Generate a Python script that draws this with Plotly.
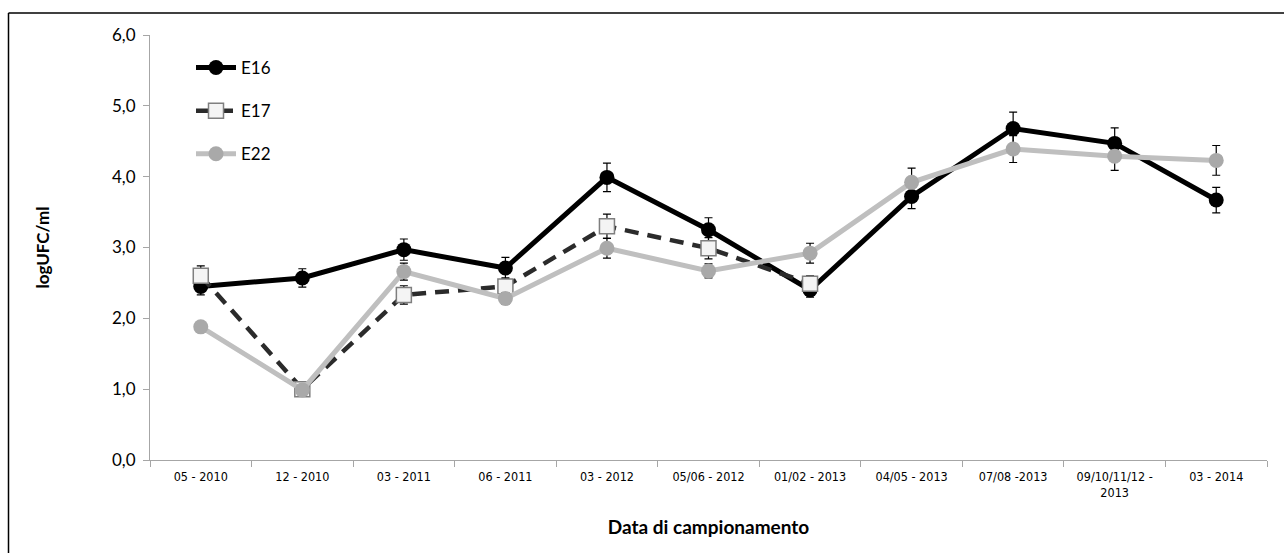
import plotly.graph_objects as go

categories = ["05 - 2010", "12 - 2010", "03 - 2011", "06 - 2011", "03 - 2012",
              "05/06 - 2012", "01/02 - 2013", "04/05 - 2013", "07/08 -2013",
              "09/10/11/12 -<br>2013", "03 - 2014"]

e16 = [2.45, 2.57, 2.97, 2.71, 3.99, 3.25, 2.40, 3.72, 4.68, 4.47, 3.67]
e16_err = [0.12, 0.13, 0.15, 0.15, 0.20, 0.17, 0.10, 0.17, 0.23, 0.22, 0.18]

e17 = [2.60, 1.00, 2.33, 2.45, 3.30, 2.99, 2.49]
e17_err = [0.14, 0.05, 0.13, 0.12, 0.17, 0.15, 0.11]

e22 = [1.88, 0.99, 2.66, 2.28, 2.99, 2.67, 2.92, 3.92, 4.39, 4.29, 4.23]
e22_err = [0.06, 0.05, 0.12, 0.08, 0.14, 0.10, 0.14, 0.20, 0.19, 0.20, 0.21]

FONT = "Lato, 'Open Sans', sans-serif"

fig = go.Figure()

fig.add_trace(go.Scatter(
    x=categories, y=e16, name="E16", mode="lines+markers",
    line=dict(color="#000000", width=5),
    marker=dict(symbol="circle", size=15, color="#000000"),
    error_y=dict(type="data", array=e16_err, color="#000000", thickness=1.2, width=4),
    legendgroup="a"))

fig.add_trace(go.Scatter(
    x=categories[:len(e17)], y=e17, name="E17", mode="lines+markers",
    line=dict(color="#2b2b2b", width=4.5, dash="14px,9px"),
    marker=dict(symbol="square", size=15, color="#f4f4f4",
                line=dict(color="#7f7f7f", width=1.5)),
    error_y=dict(type="data", array=e17_err, color="#000000", thickness=1.2, width=4),
    legendgroup="b"))

fig.add_trace(go.Scatter(
    x=categories, y=e22, name="E22", mode="lines+markers",
    line=dict(color="#bfbfbf", width=5),
    marker=dict(symbol="circle", size=15, color="#a9a9a9"),
    error_y=dict(type="data", array=e22_err, color="#000000", thickness=1.2, width=4),
    legendgroup="c"))

W, H = 1284, 553
# plot area in page pixels
PL, PR, PT, PB = 150, 1267, 35, 460
L, T, R, B = PL, PT, W - PR, H - PB
pw, ph = W - L - R, H - T - B

def px_x(p):
    return (p - L) / pw

def px_y(p):
    return (H - B - p) / ph

border = dict(color="#000000", width=1.5)

fig.update_layout(
    width=W, height=H,
    margin=dict(l=L, r=R, t=T, b=B, autoexpand=False),
    paper_bgcolor="white", plot_bgcolor="white",
    separators=", ",
    font=dict(family=FONT, color="#000000", size=15),
    showlegend=True,
    legend=dict(x=px_x(191), y=px_y(50), xanchor="left", yanchor="top",
                traceorder="grouped", tracegroupgap=18,
                font=dict(family=FONT, size=17, color="#000000"),
                bgcolor="rgba(0,0,0,0)", itemwidth=40),
    xaxis=dict(
        type="category", categoryorder="array", categoryarray=categories,
        showline=True, linecolor="#a6a6a6", linewidth=1,
        ticks="outside", tickson="boundaries", ticklen=6, tickcolor="#a6a6a6",
        ticklabelstandoff=5,
        showgrid=False, zeroline=False, automargin=False,
        tickfont=dict(family="'Liberation Sans Narrow', 'DejaVu Sans Condensed', sans-serif", size=12.5),
        title=dict(text="<b>Data di campionamento</b>", font=dict(family=FONT, size=19), standoff=21),
        range=[-0.5, len(categories) - 0.5],
    ),
    yaxis=dict(
        range=[0, 6], dtick=1, tickformat=".1f",
        showline=True, linecolor="#a6a6a6", linewidth=1,
        ticks="outside", ticklen=6, tickcolor="#a6a6a6", ticklabelstandoff=4,
        showgrid=False, zeroline=False, automargin=False,
        tickfont=dict(family=FONT, size=17),
        title=dict(text="<b>logUFC/ml</b>", font=dict(family=FONT, size=17), standoff=58),
    ),
    shapes=[
        dict(type="line", xref="paper", yref="paper",
             x0=px_x(8.5), x1=px_x(8.5), y0=px_y(580), y1=px_y(13), line=border, layer="below"),
        dict(type="line", xref="paper", yref="paper",
             x0=px_x(8.5), x1=px_x(1320), y0=px_y(13), y1=px_y(13), line=border, layer="below"),
    ],
)

fig.write_html(
    "out.html",
    config={"displayModeBar": False},
    post_script=("document.body.style.margin='0';"
                 "document.body.style.overflow='hidden';"
                 "document.documentElement.style.overflow='hidden';"),
)
